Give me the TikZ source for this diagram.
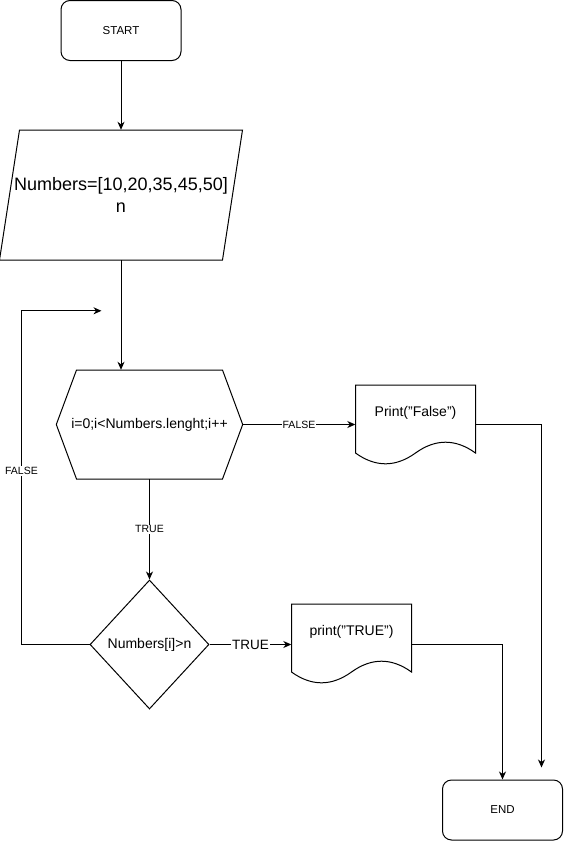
\documentclass[tikz,border=0pt]{standalone}
\usepackage{fontspec}
\setmainfont{Liberation Sans}
\usetikzlibrary{arrows.meta,shapes.geometric}
\tikzstyle{start} = [rectangle, rounded corners=9pt, minimum width=120pt, minimum height=60pt, text centered, draw=black, line width=1pt, font=\fontsize{11.5}{14}\selectfont]
\tikzstyle{stop} = [rectangle, rounded corners=9pt, minimum width=120pt, minimum height=60pt, text centered, draw=black, line width=1pt, font=\fontsize{11.5}{14}\selectfont]
\tikzstyle{io} = [rectangle, minimum width=243pt, minimum height=130pt, inner sep=0pt, align=center, font=\fontsize{18}{22}\selectfont]
\tikzstyle{loopbox} = [rectangle, minimum width=186pt, minimum height=109pt, inner sep=0pt, font=\fontsize{14}{17}\selectfont]
\tikzstyle{decision} = [diamond, minimum width=119pt, minimum height=129pt, inner sep=0pt, draw=black, line width=1pt, font=\fontsize{14}{17}\selectfont]
\tikzstyle{output} = [rectangle, minimum width=120pt, minimum height=56pt, inner sep=0pt, font=\fontsize{14}{17}\selectfont]
\tikzstyle{arrow} = [line width=1pt,->,>={Stealth[length=8pt,width=7pt,inset=2.5pt]}]
\tikzstyle{lbl} = [fill=white, inner sep=1pt, font=\fontsize{10.5}{12}\selectfont]
% outlines drawn round the plain nodes
\newcommand{\iooutline}[1]{%
  \draw [line width=1pt] ([shift={(-101.5pt,65pt)}]#1.center) -- ([shift={(121.5pt,65pt)}]#1.center) -- ([shift={(101.5pt,-65pt)}]#1.center) -- ([shift={(-121.5pt,-65pt)}]#1.center) -- cycle;}
\newcommand{\hexoutline}[1]{%
  \draw [line width=1pt] (#1.west) -- ([shift={(-73pt,54.5pt)}]#1.center) -- ([shift={(73pt,54.5pt)}]#1.center) -- (#1.east) -- ([shift={(73pt,-54.5pt)}]#1.center) -- ([shift={(-73pt,-54.5pt)}]#1.center) -- cycle;}
\newcommand{\docoutline}[1]{%
  \draw [line width=1pt] ([shift={(-60pt,28pt)}]#1.center) -- ([shift={(60pt,28pt)}]#1.center) -- ([shift={(60pt,-40pt)}]#1.center)
    .. controls ([shift={(40pt,-25.6pt)}]#1.center) and ([shift={(20pt,-25.6pt)}]#1.center) .. ([shift={(0pt,-40pt)}]#1.center)
    .. controls ([shift={(-20pt,-54.4pt)}]#1.center) and ([shift={(-40pt,-54.4pt)}]#1.center) .. ([shift={(-60pt,-40pt)}]#1.center) -- cycle;}

\begin{document}
\begin{tikzpicture}[node distance=100pt]
\useasboundingbox (0,0) rectangle (564pt,-841pt);
\node (start) [start] at (121pt,-30.5pt) {START};
\node (nums) [io, below of=start, yshift=-64.5pt] {Numbers=[10,20,35,45,50]\\n};
\node (loop) [loopbox, below of=nums, xshift=28.5pt, yshift=-129.5pt] {i=0;i<Numbers.lenght;i++};
\node (check) [decision, below of=loop, yshift=-120pt] {Numbers[i]>n};
\node (pfalse) [output, right of=loop, xshift=166pt, yshift=11.5pt] {Print("False")};
\node (ptrue) [output, right of=check, xshift=102pt, yshift=12.5pt] {print("TRUE")};
\node (end) [stop, below of=ptrue, xshift=151pt, yshift=-78pt] {END};
\iooutline{nums}
\hexoutline{loop}
\docoutline{pfalse}
\docoutline{ptrue}
\coordinate (fend) at ([xshift=39pt,yshift=12pt]end.north);
\coordinate (loopin) at ([xshift=-48pt,yshift=59pt]loop.north);

\draw [arrow] (start) -- (nums);
\draw [arrow] (nums.south) -- (nums.south |- loop.north);
\draw [arrow] (loop.east) -- node[lbl] {FALSE} (loop.east -| pfalse.west);
\draw [arrow] (loop.east -| pfalse.east) -| (fend);
\draw [arrow] (loop.south) -- node[lbl] {TRUE} (check.north);
\draw [arrow] (check.east) -- node[lbl, font=\fontsize{13.5}{15}\selectfont] {TRUE} (check.east -| ptrue.west);
\draw [arrow] (check.east -| ptrue.east) -| (end.north);
\draw [arrow] (check.west) -- ++(-68pt,0) |- node[lbl, pos=0.26] {FALSE} (loopin);
\end{tikzpicture}
\end{document}
